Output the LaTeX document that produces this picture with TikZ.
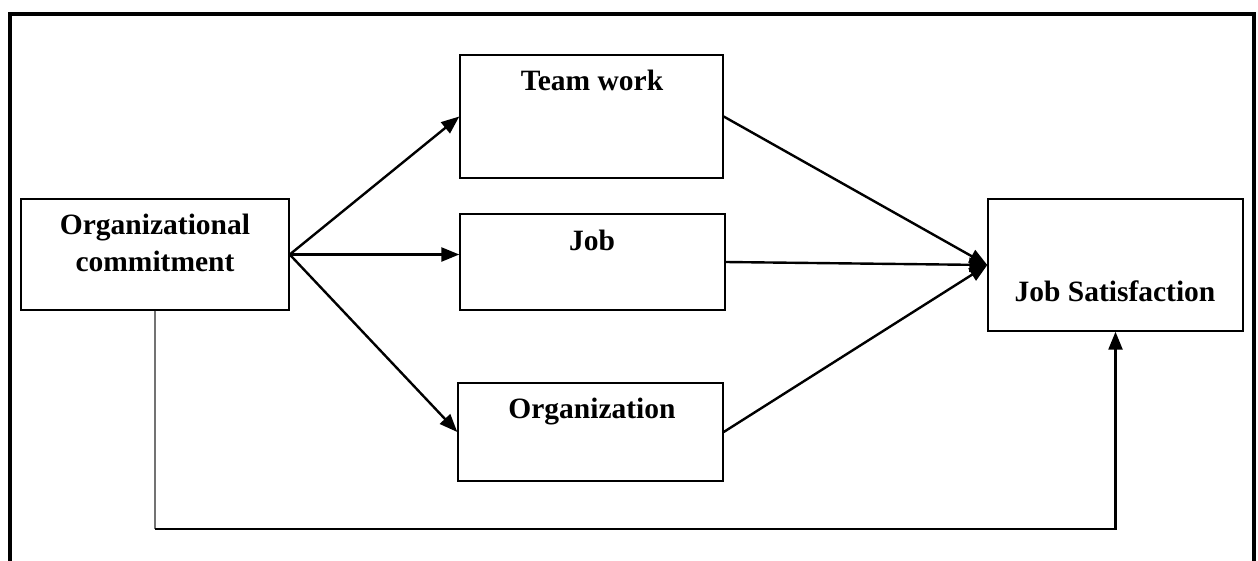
\documentclass[tikz,border=0pt]{standalone}
\usepackage{fontspec}
\setmainfont{Liberation Serif}
\usetikzlibrary{arrows.meta}
\begin{document}
\begin{tikzpicture}[x=1pt,y=-1pt,
  box/.style={draw=black, line width=1.4pt, rectangle, inner sep=0pt},
  lbl/.style={anchor=base, inner sep=0pt, font=\fontsize{29.5}{35}\selectfont\bfseries},
  arr/.style={line width=2.4pt, -{Triangle[length=18pt,width=14pt]}},
  frame/.style={line width=4pt}]
\useasboundingbox (0,0) rectangle (1258,560);

% outer frame (open at the bottom edge of the page)
\draw[frame] (10,600) -- (10,14) -- (1254,14) -- (1254,600);

% boxes
\node[box, minimum width=268pt, minimum height=111pt] (oc)   at (155,254.5) {};
\node[box, minimum width=263pt, minimum height=123pt] (team) at (591.5,116.5) {};
\node[box, minimum width=265pt, minimum height=96pt]  (job)  at (592.5,262) {};
\node[box, minimum width=265pt, minimum height=98pt]  (org)  at (590.5,432) {};
\node[box, minimum width=255pt, minimum height=132pt] (js)   at (1115.5,265) {};

% box texts
\node[lbl] (oc1) at (155,234) {Organizational};
\node[lbl] (oc2) at (155,271) {commitment};
\node[lbl] (teamt) at (592,90) {Team work};
\node[lbl] (jobt) at (592,250) {Job};
\node[lbl] (orgt) at (592,418) {Organization};
\node[lbl] (jst) at (1115,301) {Job Satisfaction};

% arrows from organizational commitment
\draw[arr] (oc.east) -- (team.west);
\draw[arr] (oc.east) -- (job.west |- oc.east);
\draw[arr] (oc.east) -- (org.west);

% arrows into job satisfaction
\draw[arr] (team.east) -- (js.west);
\draw[arr] (job.east) -- (js.west);
\draw[arr] (org.east) -- (js.west);

% direct path along the bottom
\coordinate (bl) at (155,529);
\coordinate (br) at (js.south |- bl);
\draw[line width=1.2pt, black!55] (oc.south) -- (bl);
\draw[arr] (bl) -- (br) -- (js.south);
\end{tikzpicture}
\end{document}
